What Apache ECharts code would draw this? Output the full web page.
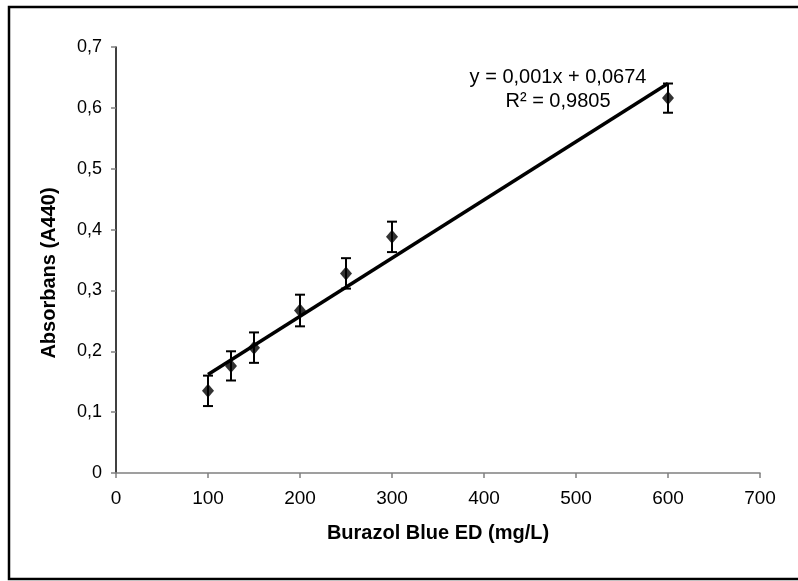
<!DOCTYPE html>
<html>
<head>
<meta charset="utf-8">
<script src="https://cdn.jsdelivr.net/npm/echarts@6/dist/echarts.min.js"></script>
<style>html,body{margin:0;padding:0;background:#fff}#c{width:798px;height:581px}</style>
</head>
<body>
<div id="c"></div>
<script>
const concentrations = [100, 125, 150, 200, 250, 300, 600];
const absorbance = [0.135, 0.176, 0.206, 0.267, 0.328, 0.388, 0.616];
const errors = [0.025, 0.024, 0.025, 0.026, 0.025, 0.025, 0.024];
const trendX = [100, 600];
const trendY = [0.162, 0.640];
const xTicks = [0, 100, 200, 300, 400, 500, 600, 700];
const yTicks = [0, 0.1, 0.2, 0.3, 0.4, 0.5, 0.6, 0.7];
const equationText = 'y = 0,001x + 0,0674';
const r2Text = 'R² = 0,9805';

const chart = echarts.init(document.getElementById('c'), null, {renderer: 'canvas'});
const font = 'Liberation Sans, Arial, sans-serif';
const fmtComma = v => String(Math.round(v * 10) / 10).replace('.', ',');

const errData = concentrations.map((x, i) => [x, absorbance[i] - errors[i], absorbance[i] + errors[i]]);

chart.setOption({
  animation: false,
  backgroundColor: '#fff',
  grid: {left: 116, right: 38, top: 47, bottom: 108},
  xAxis: {
    type: 'value', min: xTicks[0], max: xTicks[xTicks.length - 1], interval: 100,
    axisLine: {lineStyle: {color: '#808080', width: 1.5}},
    axisTick: {length: 5, lineStyle: {color: '#808080', width: 1.5}},
    axisLabel: {color: '#000', fontSize: 19, fontFamily: font, margin: 16},
    splitLine: {show: false},
    name: 'Burazol Blue ED (mg/L)', nameLocation: 'middle', nameGap: 50,
    nameTextStyle: {color: '#000', fontSize: 20, fontWeight: 'bold', fontFamily: font}
  },
  yAxis: {
    type: 'value', min: yTicks[0], max: yTicks[yTicks.length - 1], interval: 0.1,
    axisLine: {show: true, lineStyle: {color: '#000', width: 1.5}},
    axisTick: {show: true, length: 5, lineStyle: {color: '#808080', width: 1.5}},
    axisLabel: {color: '#000', fontSize: 18, fontFamily: font, margin: 14, formatter: fmtComma},
    splitLine: {show: false},
    name: 'Absorbans (A440)', nameLocation: 'middle', nameGap: 57,
    nameTextStyle: {color: '#000', fontSize: 20, fontWeight: 'bold', fontFamily: font, padding: [0, 26, 0, 0]}
  },
  series: [
    {
      type: 'line', data: trendX.map((x, i) => [x, trendY[i]]),
      symbol: 'none', lineStyle: {color: '#000', width: 3.5}, z: 2
    },
    {
      type: 'custom', data: errData, z: 3,
      renderItem: (params, api) => {
        const x = api.value(0);
        const lo = api.coord([x, api.value(1)]);
        const hi = api.coord([x, api.value(2)]);
        const w = 5;
        const st = {stroke: '#000', lineWidth: 2};
        return {type: 'group', children: [
          {type: 'line', shape: {x1: lo[0], y1: lo[1], x2: hi[0], y2: hi[1]}, style: st},
          {type: 'line', shape: {x1: lo[0] - w, y1: lo[1], x2: lo[0] + w, y2: lo[1]}, style: st},
          {type: 'line', shape: {x1: hi[0] - w, y1: hi[1], x2: hi[0] + w, y2: hi[1]}, style: st}
        ]};
      }
    },
    {
      type: 'scatter', data: concentrations.map((x, i) => [x, absorbance[i]]),
      symbol: 'diamond', symbolSize: [12, 14], itemStyle: {color: '#000'}, z: 4
    }
  ],
  graphic: [
    {type: 'rect', shape: {x: 9, y: 7, width: 820, height: 572}, style: {fill: null, stroke: '#000', lineWidth: 2.5}, z: 10},
    {type: 'text', x: 558, y: 77, style: {text: equationText, fill: '#000', font: '20px ' + font, textAlign: 'center', textVerticalAlign: 'middle'}, z: 10},
    {type: 'text', x: 558, y: 101, style: {text: r2Text, fill: '#000', font: '20px ' + font, textAlign: 'center', textVerticalAlign: 'middle'}, z: 10}
  ]
});
</script>
</body>
</html>
